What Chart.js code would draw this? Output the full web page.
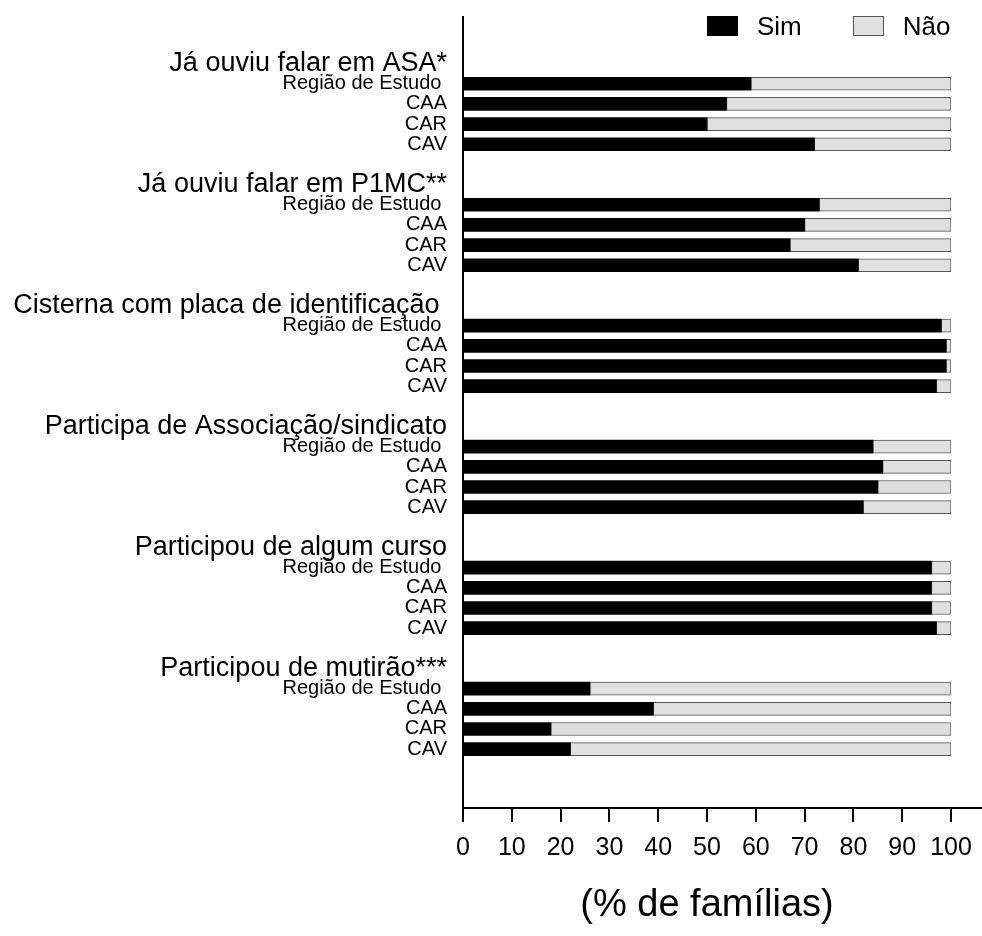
<!DOCTYPE html>
<html>
<head>
<meta charset="utf-8">
<script src="https://cdn.jsdelivr.net/npm/chart.js@4"></script>
<style>
  html, body { margin: 0; padding: 0; background: #fff; }
  #wrap { position: relative; width: 982px; height: 936px; }
  #legend {
    position: absolute; top: 12px; left: 707px;
    display: flex; align-items: flex-start;
    font-family: 'Liberation Sans', Arial, Helvetica, sans-serif;
    font-size: 26px; line-height: 29px; color: #000;
  }
  #legend .item { display: flex; align-items: flex-start; margin-right: 51px; }
  #legend .item:last-child { margin-right: 0; }
  #legend .box { box-sizing: border-box; width: 31px; height: 20px; margin-top: 3.5px; margin-right: 19px; }
</style>
</head>
<body>
<div id="wrap">
  <canvas id="chart" width="982" height="936"></canvas>
  <div id="legend"></div>
</div>
<script>
// Questions (group headings) and the regions shown under each one
const questions = [
  'Já ouviu falar em ASA*',
  'Já ouviu falar em P1MC**',
  'Cisterna com placa de identificação ',
  'Participa de Associação/sindicato',
  'Participou de algum curso',
  'Participou de mutirão***'
];
const regions = ['Região de Estudo ', 'CAA', 'CAR', 'CAV'];

// Share of families (%) answering "Sim" / "Não", region by region, question by question
const simPct = [
  59, 54, 50, 72,
  73, 70, 67, 81,
  98, 99, 99, 97,
  84, 86, 85, 82,
  96, 96, 96, 97,
  26, 39, 18, 22
];
const naoPct = [
  41, 46, 50, 28,
  27, 30, 33, 19,
   2,  1,  1,  3,
  16, 14, 15, 18,
   4,  4,  4,  3,
  74, 61, 82, 78
];

const xTicks = [0, 10, 20, 30, 40, 50, 60, 70, 80, 90, 100];
const seriesNames = ['Sim', 'Não'];

// Each question block takes six rows: heading, four regions and a blank spacer
const ROWS_PER_BLOCK = 6;
const rowOf = (block, r) => block * ROWS_PER_BLOCK + r;

const rowLabels = new Map();
questions.forEach((q, b) => {
  rowLabels.set(rowOf(b, -1), { text: q, heading: true });
  regions.forEach((name, r) => rowLabels.set(rowOf(b, r), { text: name, heading: false }));
});

const toPoints = vals => vals.map((v, i) => ({
  x: v,
  y: rowOf(Math.floor(i / regions.length), i % regions.length)
}));

// The x axis line runs on past 100 to the right edge
const axisLineExtension = {
  id: 'axisLineExtension',
  afterDraw(chart) {
    const { ctx, chartArea, width } = chart;
    ctx.save();
    ctx.strokeStyle = '#000';
    ctx.lineWidth = 2;
    ctx.beginPath();
    ctx.moveTo(chartArea.right, chartArea.bottom);
    ctx.lineTo(width, chartArea.bottom);
    ctx.stroke();
    ctx.restore();
  }
};

Chart.defaults.font.family = "'Liberation Sans', Arial, Helvetica, sans-serif";
Chart.defaults.color = '#000';

const chart = new Chart(document.getElementById('chart'), {
  type: 'bar',
  data: {
    datasets: [
      {
        label: seriesNames[0],
        data: toPoints(simPct),
        backgroundColor: '#000000',
        borderColor: '#000000',
        borderWidth: 0,
        barThickness: 13
      },
      {
        label: seriesNames[1],
        data: toPoints(naoPct),
        backgroundColor: '#e0e0e0',
        borderColor: '#555555',
        borderWidth: 1,
        borderSkipped: false,
        barThickness: 13
      }
    ]
  },
  options: {
    indexAxis: 'y',
    responsive: false,
    animation: false,
    layout: { padding: { top: 17, right: 31, left: 0, bottom: 0 } },
    plugins: {
      tooltip: { enabled: false },
      legend: { display: false }
    },
    scales: {
      x: {
        type: 'linear',
        min: 0,
        max: 100,
        stacked: true,
        afterBuildTicks: s => { s.ticks = xTicks.map(v => ({ value: v })); },
        afterFit: s => { s.height = 128; s.paddingLeft = 0; s.paddingRight = 0; },
        ticks: { font: { size: 25 }, color: '#000', padding: 11, maxRotation: 0, autoSkip: false },
        grid: { display: true, drawOnChartArea: false, drawTicks: true, tickLength: 14, color: '#000', lineWidth: 2 },
        border: { display: true, color: '#000', width: 2 },
        title: {
          display: true,
          text: '(% de famílias)',
          color: '#000',
          font: { size: 38 },
          padding: { top: 0, bottom: 8 }
        }
      },
      y: {
        type: 'linear',
        reverse: true,
        offset: false,
        min: -3.31,
        max: 35.92,
        stacked: true,
        afterBuildTicks: s => {
          s.ticks = [...rowLabels.keys()].sort((a, b) => a - b).map(v => ({ value: v }));
        },
        afterFit: s => { s.width = 463; s.paddingTop = 0; s.paddingBottom = 0; },
        ticks: {
          autoSkip: false,
          padding: 16,
          color: '#000',
          callback: v => (rowLabels.get(v) || { text: '' }).text,
          font: ctx => ({ size: (rowLabels.get(ctx.tick && ctx.tick.value) || {}).heading ? 27 : 20 })
        },
        grid: { display: false, drawTicks: false, offset: false },
        border: { display: true, color: '#000', width: 2 }
      }
    }
  },
  plugins: [axisLineExtension]
});

// Legend built from the datasets
const legendEl = document.getElementById('legend');
chart.data.datasets.forEach(ds => {
  const item = document.createElement('div');
  item.className = 'item';
  const box = document.createElement('span');
  box.className = 'box';
  box.style.background = ds.backgroundColor;
  box.style.border = ds.borderWidth ? '1px solid ' + ds.borderColor : 'none';
  const label = document.createElement('span');
  label.textContent = ds.label;
  item.appendChild(box);
  item.appendChild(label);
  legendEl.appendChild(item);
});
</script>
</body>
</html>
